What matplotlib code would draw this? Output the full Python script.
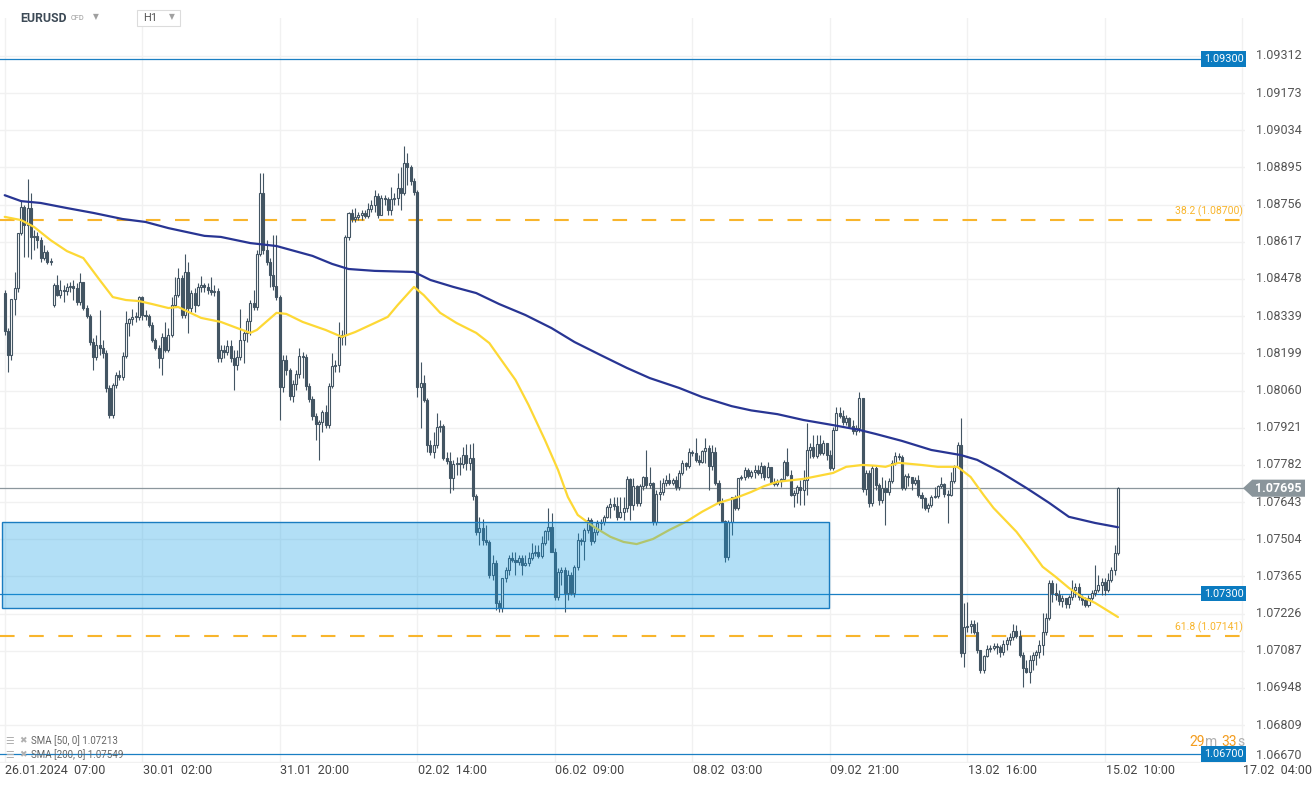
"""
EURUSD H1 candlestick chart with SMA 50 / SMA 200, key levels and fib lines.
"""

import numpy as np
import matplotlib.pyplot as plt
import matplotlib.transforms as mtransforms
from matplotlib.patches import Rectangle, Polygon

# ── Data ──────────────────────────────────────────────────────────────────────
close = [
    1.08283, 1.08193, 1.08402, 1.08444, 1.08650, 1.08747, 1.08679, 1.08743, 1.08635, 1.08639,
    1.08623, 1.08556, 1.08579, 1.08542, 1.08545, 1.08455, 1.08417, 1.08436, 1.08432, 1.08448,
    1.08452, 1.08444, 1.08392, 1.08467, 1.08369, 1.08340, 1.08242, 1.08186, 1.08230, 1.08219,
    1.08201, 1.08070, 1.07969, 1.08081, 1.08118, 1.08111, 1.08190, 1.08313, 1.08328, 1.08336,
    1.08336, 1.08410, 1.08343, 1.08340, 1.08305, 1.08249, 1.08219, 1.08182, 1.08261, 1.08212,
    1.08268, 1.08380, 1.08417, 1.08481, 1.08343, 1.08504, 1.08369, 1.08425, 1.08380, 1.08448,
    1.08455, 1.08448, 1.08436, 1.08429, 1.08432, 1.08182, 1.08212, 1.08205, 1.08227, 1.08182,
    1.08156, 1.08186, 1.08249, 1.08276, 1.08320, 1.08388, 1.08373, 1.08571, 1.08799, 1.08586,
    1.08542, 1.08492, 1.08452, 1.08410, 1.08074, 1.08175, 1.08137, 1.08040, 1.08085, 1.08122,
    1.08190, 1.08186, 1.08078, 1.08028, 1.07966, 1.07935, 1.07943, 1.07981, 1.07931, 1.08078,
    1.08153, 1.08156, 1.08261, 1.08268, 1.08635, 1.08725, 1.08702, 1.08710, 1.08717, 1.08725,
    1.08714, 1.08739, 1.08754, 1.08788, 1.08717, 1.08780, 1.08776, 1.08736, 1.08776, 1.08780,
    1.08818, 1.08799, 1.08912, 1.08897, 1.08844, 1.08803, 1.08074, 1.08089, 1.08025, 1.07856,
    1.07831, 1.07856, 1.07924, 1.07928, 1.07808, 1.07797, 1.07733, 1.07786, 1.07790, 1.07786,
    1.07819, 1.07790, 1.07808, 1.07666, 1.07532, 1.07546, 1.07501, 1.07494, 1.07370, 1.07416,
    1.07266, 1.07247, 1.07359, 1.07389, 1.07434, 1.07427, 1.07420, 1.07434, 1.07408, 1.07416,
    1.07434, 1.07453, 1.07457, 1.07442, 1.07490, 1.07535, 1.07550, 1.07457, 1.07288, 1.07382,
    1.07389, 1.07303, 1.07370, 1.07303, 1.07401, 1.07501, 1.07497, 1.07539, 1.07576, 1.07497,
    1.07532, 1.07565, 1.07569, 1.07588, 1.07625, 1.07636, 1.07629, 1.07588, 1.07607, 1.07621,
    1.07730, 1.07632, 1.07703, 1.07640, 1.07703, 1.07737, 1.07707, 1.07715, 1.07569, 1.07673,
    1.07681, 1.07715, 1.07726, 1.07715, 1.07726, 1.07700, 1.07752, 1.07790, 1.07779, 1.07831,
    1.07827, 1.07801, 1.07794, 1.07834, 1.07845, 1.07779, 1.07831, 1.07715, 1.07640, 1.07572,
    1.07438, 1.07569, 1.07662, 1.07621, 1.07733, 1.07737, 1.07763, 1.07741, 1.07756, 1.07763,
    1.07752, 1.07779, 1.07737, 1.07775, 1.07719, 1.07711, 1.07722, 1.07730, 1.07794, 1.07744,
    1.07669, 1.07677, 1.07700, 1.07688, 1.07726, 1.07838, 1.07849, 1.07816, 1.07860, 1.07827,
    1.07864, 1.07819, 1.07771, 1.07913, 1.07977, 1.07966, 1.07943, 1.07958, 1.07928, 1.07909,
    1.07920, 1.08032, 1.07692, 1.07752, 1.07640, 1.07771, 1.07707, 1.07651, 1.07696, 1.07681,
    1.07722, 1.07790, 1.07816, 1.07812, 1.07696, 1.07741, 1.07737, 1.07715, 1.07726, 1.07669,
    1.07658, 1.07621, 1.07632, 1.07662, 1.07666, 1.07703, 1.07711, 1.07673, 1.07669, 1.07722,
    1.07775, 1.07856, 1.07079, 1.07176, 1.07180, 1.07187, 1.07157, 1.07090, 1.07015, 1.07068,
    1.07094, 1.07097, 1.07105, 1.07101, 1.07083, 1.07112, 1.07127, 1.07139, 1.07161, 1.07142,
    1.07071, 1.07023, 1.07008, 1.07053, 1.07071, 1.07083, 1.07108, 1.07157, 1.07210, 1.07341,
    1.07303, 1.07295, 1.07273, 1.07284, 1.07262, 1.07288, 1.07314, 1.07326, 1.07288, 1.07277,
    1.07258, 1.07284, 1.07303, 1.07314, 1.07333, 1.07345, 1.07314, 1.07352, 1.07389, 1.07453,
    1.07695,
]

high = [
    1.08436, 1.08294, 1.08402, 1.08504, 1.08650, 1.08773, 1.08754, 1.08851, 1.08799, 1.08661,
    1.08654, 1.08635, 1.08604, 1.08586, 1.08556, 1.08463, 1.08492, 1.08474, 1.08455, 1.08463,
    1.08467, 1.08474, 1.08463, 1.08500, 1.08467, 1.08380, 1.08347, 1.08257, 1.08268, 1.08362,
    1.08249, 1.08212, 1.08081, 1.08089, 1.08130, 1.08137, 1.08205, 1.08358, 1.08332, 1.08365,
    1.08355, 1.08414, 1.08414, 1.08362, 1.08347, 1.08317, 1.08257, 1.08230, 1.08276, 1.08317,
    1.08294, 1.08410, 1.08485, 1.08519, 1.08492, 1.08571, 1.08542, 1.08436, 1.08444, 1.08463,
    1.08489, 1.08463, 1.08463, 1.08485, 1.08455, 1.08444, 1.08230, 1.08230, 1.08249, 1.08249,
    1.08212, 1.08212, 1.08365, 1.08287, 1.08332, 1.08399, 1.08436, 1.08586, 1.08874, 1.08874,
    1.08623, 1.08556, 1.08642, 1.08642, 1.08417, 1.08193, 1.08193, 1.08145, 1.08100, 1.08137,
    1.08219, 1.08205, 1.08197, 1.08089, 1.08040, 1.07977, 1.07950, 1.07988, 1.08006, 1.08089,
    1.08201, 1.08175, 1.08317, 1.08287, 1.08642, 1.08729, 1.08739, 1.08743, 1.08729, 1.08736,
    1.08736, 1.08762, 1.08773, 1.08810, 1.08799, 1.08791, 1.08791, 1.08784, 1.08822, 1.08799,
    1.08874, 1.08897, 1.08975, 1.08949, 1.08904, 1.08855, 1.08810, 1.08168, 1.08118, 1.08032,
    1.07875, 1.07906, 1.07977, 1.07950, 1.07935, 1.07831, 1.07831, 1.07801, 1.07812, 1.07812,
    1.07849, 1.07860, 1.07860, 1.07864, 1.07673, 1.07588, 1.07580, 1.07557, 1.07501, 1.07445,
    1.07427, 1.07277, 1.07352, 1.07401, 1.07445, 1.07457, 1.07457, 1.07445, 1.07445, 1.07445,
    1.07457, 1.07490, 1.07482, 1.07482, 1.07517, 1.07539, 1.07621, 1.07603, 1.07471, 1.07397,
    1.07401, 1.07401, 1.07389, 1.07382, 1.07408, 1.07528, 1.07509, 1.07546, 1.07588, 1.07584,
    1.07546, 1.07576, 1.07580, 1.07595, 1.07632, 1.07658, 1.07662, 1.07662, 1.07662, 1.07662,
    1.07741, 1.07733, 1.07733, 1.07707, 1.07711, 1.07741, 1.07838, 1.07775, 1.07719, 1.07688,
    1.07726, 1.07733, 1.07744, 1.07752, 1.07733, 1.07741, 1.07763, 1.07801, 1.07794, 1.07845,
    1.07838, 1.07883, 1.07819, 1.07838, 1.07883, 1.07856, 1.07856, 1.07849, 1.07726, 1.07658,
    1.07576, 1.07576, 1.07662, 1.07669, 1.07733, 1.07744, 1.07775, 1.07771, 1.07763, 1.07782,
    1.07782, 1.07794, 1.07782, 1.07794, 1.07771, 1.07733, 1.07730, 1.07733, 1.07801, 1.07845,
    1.07763, 1.07688, 1.07707, 1.07726, 1.07763, 1.07939, 1.07864, 1.07894, 1.07894, 1.07894,
    1.07875, 1.07845, 1.07838, 1.07924, 1.07999, 1.07999, 1.07988, 1.07969, 1.07962, 1.07950,
    1.07931, 1.08055, 1.08032, 1.07763, 1.07763, 1.07782, 1.07782, 1.07715, 1.07737, 1.07726,
    1.07733, 1.07801, 1.07831, 1.07827, 1.07819, 1.07748, 1.07752, 1.07726, 1.07737, 1.07744,
    1.07681, 1.07662, 1.07640, 1.07669, 1.07700, 1.07707, 1.07737, 1.07715, 1.07688, 1.07756,
    1.07782, 1.07868, 1.07958, 1.07266, 1.07270, 1.07202, 1.07202, 1.07195, 1.07090, 1.07071,
    1.07108, 1.07108, 1.07116, 1.07116, 1.07108, 1.07127, 1.07139, 1.07154, 1.07187, 1.07184,
    1.07165, 1.07083, 1.07053, 1.07071, 1.07083, 1.07090, 1.07127, 1.07229, 1.07229, 1.07352,
    1.07352, 1.07341, 1.07314, 1.07295, 1.07284, 1.07295, 1.07352, 1.07341, 1.07341, 1.07295,
    1.07288, 1.07295, 1.07314, 1.07408, 1.07370, 1.07359, 1.07359, 1.07378, 1.07401, 1.07482,
    1.07700,
]

low = [
    1.08268, 1.08130, 1.08175, 1.08343, 1.08429, 1.08642, 1.08560, 1.08560, 1.08552, 1.08586,
    1.08593, 1.08542, 1.08549, 1.08534, 1.08530, 1.08373, 1.08414, 1.08406, 1.08392, 1.08417,
    1.08429, 1.08399, 1.08380, 1.08380, 1.08362, 1.08332, 1.08230, 1.08137, 1.08175, 1.08193,
    1.08182, 1.08055, 1.07958, 1.07958, 1.08070, 1.08100, 1.08100, 1.08182, 1.08265, 1.08305,
    1.08317, 1.08324, 1.08324, 1.08324, 1.08298, 1.08242, 1.08212, 1.08145, 1.08118, 1.08205,
    1.08205, 1.08261, 1.08373, 1.08410, 1.08332, 1.08332, 1.08276, 1.08355, 1.08355, 1.08377,
    1.08429, 1.08429, 1.08421, 1.08417, 1.08414, 1.08168, 1.08168, 1.08182, 1.08193, 1.08168,
    1.08062, 1.08137, 1.08175, 1.08164, 1.08242, 1.08268, 1.08362, 1.08362, 1.08564, 1.08571,
    1.08530, 1.08448, 1.08436, 1.08399, 1.07950, 1.08055, 1.08118, 1.08025, 1.08018, 1.08062,
    1.08107, 1.08107, 1.08062, 1.08018, 1.07950, 1.07875, 1.07801, 1.07906, 1.07920, 1.07920,
    1.08070, 1.08130, 1.08130, 1.08230, 1.08230, 1.08623, 1.08691, 1.08691, 1.08698, 1.08698,
    1.08706, 1.08706, 1.08729, 1.08729, 1.08706, 1.08717, 1.08754, 1.08717, 1.08717, 1.08754,
    1.08754, 1.08736, 1.08791, 1.08829, 1.08829, 1.08791, 1.08036, 1.07920, 1.08018, 1.07831,
    1.07819, 1.07808, 1.07845, 1.07906, 1.07801, 1.07786, 1.07677, 1.07688, 1.07744, 1.07744,
    1.07771, 1.07763, 1.07763, 1.07651, 1.07520, 1.07482, 1.07482, 1.07482, 1.07359, 1.07352,
    1.07240, 1.07233, 1.07233, 1.07345, 1.07370, 1.07420, 1.07370, 1.07408, 1.07370, 1.07405,
    1.07405, 1.07427, 1.07442, 1.07434, 1.07434, 1.07482, 1.07501, 1.07457, 1.07277, 1.07277,
    1.07333, 1.07233, 1.07277, 1.07295, 1.07288, 1.07389, 1.07482, 1.07427, 1.07528, 1.07482,
    1.07490, 1.07520, 1.07539, 1.07557, 1.07584, 1.07584, 1.07614, 1.07576, 1.07584, 1.07576,
    1.07607, 1.07576, 1.07614, 1.07629, 1.07629, 1.07688, 1.07696, 1.07696, 1.07557, 1.07557,
    1.07651, 1.07669, 1.07703, 1.07707, 1.07707, 1.07688, 1.07688, 1.07744, 1.07763, 1.07771,
    1.07816, 1.07794, 1.07782, 1.07790, 1.07790, 1.07688, 1.07763, 1.07707, 1.07632, 1.07569,
    1.07420, 1.07427, 1.07520, 1.07614, 1.07614, 1.07726, 1.07726, 1.07733, 1.07733, 1.07733,
    1.07744, 1.07733, 1.07726, 1.07733, 1.07715, 1.07703, 1.07703, 1.07700, 1.07726, 1.07741,
    1.07666, 1.07625, 1.07640, 1.07632, 1.07632, 1.07669, 1.07808, 1.07808, 1.07808, 1.07819,
    1.07819, 1.07801, 1.07763, 1.07763, 1.07913, 1.07958, 1.07931, 1.07931, 1.07920, 1.07898,
    1.07894, 1.07906, 1.07681, 1.07669, 1.07625, 1.07629, 1.07688, 1.07632, 1.07640, 1.07557,
    1.07669, 1.07715, 1.07782, 1.07801, 1.07688, 1.07688, 1.07703, 1.07688, 1.07707, 1.07662,
    1.07621, 1.07614, 1.07607, 1.07625, 1.07658, 1.07658, 1.07696, 1.07662, 1.07565, 1.07666,
    1.07715, 1.07771, 1.07064, 1.07026, 1.07157, 1.07154, 1.07150, 1.07079, 1.07004, 1.07004,
    1.07064, 1.07083, 1.07090, 1.07075, 1.07064, 1.07071, 1.07090, 1.07108, 1.07127, 1.07135,
    1.07064, 1.06952, 1.07004, 1.06967, 1.07015, 1.07034, 1.07060, 1.07071, 1.07146, 1.07202,
    1.07270, 1.07277, 1.07258, 1.07251, 1.07247, 1.07247, 1.07277, 1.07288, 1.07277, 1.07258,
    1.07251, 1.07251, 1.07277, 1.07292, 1.07307, 1.07295, 1.07295, 1.07307, 1.07345, 1.07370,
    1.07445,
]

# opens follow the previous close, except where a session opened with a gap
gap_opens = {0: 1.08425, 15: 1.08380}

sma50_idx = [0, 5, 9, 14, 19, 24, 29, 33, 37, 41, 45, 50, 53, 56, 60, 66, 71, 75, 77, 83,
             86, 91, 98, 103, 107, 113, 117, 120, 125, 128, 133, 138, 144, 148, 151, 156, 160, 165, 169, 172,
             175, 180, 185, 189, 193, 198, 203, 208, 213, 218, 224, 228, 232, 236, 244, 253, 257, 262, 266, 269,
             273, 280, 285, 291, 295, 299, 302, 309, 313, 317, 321, 325, 329, 333, 340]
sma50 = [1.08710, 1.08698, 1.08672, 1.08623, 1.08582, 1.08556, 1.08474, 1.08410, 1.08399, 1.08395,
         1.08384, 1.08369, 1.08373, 1.08355, 1.08332, 1.08317, 1.08294, 1.08276, 1.08287, 1.08351,
         1.08347, 1.08317, 1.08287, 1.08261, 1.08279, 1.08313, 1.08336, 1.08380, 1.08448, 1.08417,
         1.08351, 1.08313, 1.08276, 1.08238, 1.08186, 1.08100, 1.08006, 1.07875, 1.07763, 1.07662,
         1.07595, 1.07550, 1.07513, 1.07494, 1.07486, 1.07505, 1.07539, 1.07569, 1.07607, 1.07640,
         1.07662, 1.07681, 1.07703, 1.07719, 1.07730, 1.07752, 1.07775, 1.07782, 1.07779, 1.07775,
         1.07790, 1.07782, 1.07775, 1.07775, 1.07737, 1.07669, 1.07621, 1.07532, 1.07468, 1.07401,
         1.07363, 1.07322, 1.07288, 1.07266, 1.07213]

sma200_idx = [0, 5, 11, 19, 27, 36, 43, 50, 61, 66, 75, 83, 94, 100, 105, 113, 125, 130, 137, 144,
              151, 159, 167, 174, 182, 190, 197, 206, 213, 222, 228, 236, 244, 253, 261, 266, 274, 283, 292, 297,
              304, 312, 319, 325, 333, 340]
sma200 = [1.08791, 1.08769, 1.08762, 1.08743, 1.08725, 1.08702, 1.08691, 1.08668, 1.08639, 1.08635,
          1.08612, 1.08601, 1.08564, 1.08534, 1.08515, 1.08508, 1.08504, 1.08474, 1.08448, 1.08425,
          1.08384, 1.08343, 1.08294, 1.08242, 1.08193, 1.08145, 1.08107, 1.08070, 1.08036, 1.08002,
          1.07986, 1.07972, 1.07950, 1.07931, 1.07913, 1.07898, 1.07872, 1.07838, 1.07819, 1.07801,
          1.07756, 1.07696, 1.07640, 1.07588, 1.07565, 1.07549]

levels = [1.09300, 1.07300, 1.06700]
fib_levels = [1.08700, 1.07141]
fib_labels = ["38.2 (1.08700)", "61.8 (1.07141)"]
zone_start, zone_end = -0.8, 251.8      # candle index span of the blue zone
zone_low, zone_high = 1.07245, 1.07570

ytick_vals = [1.09312, 1.09173, 1.09034, 1.08895, 1.08756, 1.08617, 1.08478, 1.08339, 1.08199, 1.08060,
              1.07921, 1.07782, 1.07643, 1.07504, 1.07365, 1.07226, 1.07087, 1.06948, 1.06809, 1.06670]
xtick_idx = [0, 42, 84, 126, 168, 210, 252, 294, 336, 378]
xtick_labels = ["26.01.2024  07:00", "30.01  02:00", "31.01  20:00", "02.02  14:00", "06.02  09:00",
                "08.02  03:00", "09.02  21:00", "13.02  16:00", "15.02  10:00", "17.02  04:00"]

# ── Style ─────────────────────────────────────────────────────────────────────
plt.rcParams['font.family'] = ['Roboto', 'DejaVu Sans']
CANDLE = "#435563"
GRID = "#f1f1f1"
LEVEL = "#1a7fc3"
FIB = "#f8b52c"
TXT = "#555555"

W, H = 1315, 787
fig = plt.figure(figsize=(W / 100, H / 100), dpi=100)
ax = fig.add_axes([0, 24 / H, 1245 / W, 745 / H])
ax.set_xlim(-1.44, 378.8)
ax.set_ylim(1.06667, 1.09454)
for s in ax.spines.values():
    s.set_visible(False)
ax.set_xticks([])
ax.set_yticks([])

trans = mtransforms.blended_transform_factory(ax.transAxes, ax.transData)
xtrans = mtransforms.blended_transform_factory(ax.transData, ax.transAxes)

# grid
for p in ytick_vals:
    ax.axhline(p, color=GRID, lw=1, zorder=0)
for ix in xtick_idx:
    ax.axvline(ix, color=GRID, lw=1, zorder=0)

# ── Candles ───────────────────────────────────────────────────────────────────
c = np.array(close)
o = np.array([gap_opens.get(i, close[i - 1] if i else close[0]) for i in range(len(close))])
h = np.maximum(np.array(high), np.maximum(o, c))
l = np.minimum(np.array(low), np.minimum(o, c))
idx = np.arange(len(c))
up = c >= o
bottom = np.minimum(o, c)
height = np.maximum(np.abs(c - o), 0.00002)

ax.vlines(idx, l, h, color=CANDLE, lw=0.8, zorder=3)
ax.bar(idx[up], height[up], bottom=bottom[up], width=0.62, facecolor="white",
       edgecolor=CANDLE, linewidth=0.8, zorder=4)
ax.bar(idx[~up], height[~up], bottom=bottom[~up], width=0.62, facecolor=CANDLE,
       edgecolor=CANDLE, linewidth=0.8, zorder=4)

# ── Moving averages ───────────────────────────────────────────────────────────
ax.plot(sma50_idx, sma50, color="#fdd835", lw=1.6, zorder=5, solid_capstyle="round")
ax.plot(sma200_idx, sma200, color="#283593", lw=1.6, zorder=5, solid_capstyle="round")

# ── Levels ────────────────────────────────────────────────────────────────────
for lv in levels:
    ax.axhline(lv, color=LEVEL, lw=0.9, zorder=2)
    ax.text(0.9988, lv, f"{lv:.5f}", transform=trans, ha="right", va="center",
            fontsize=7.8, color="white", zorder=9,
            bbox=dict(boxstyle="square,pad=0.25", fc="#0b7bc0", ec="none"))

fib_off = mtransforms.offset_copy(trans, fig=fig, y=3, units="dots")
for lv, lab in zip(fib_levels, fib_labels):
    ax.axhline(lv, color=FIB, lw=1.5, dashes=(7, 7), zorder=2)
    ax.text(0.9985, lv, lab, transform=fib_off, ha="right", va="bottom",
            fontsize=7.5, color=FIB, zorder=9)

ax.add_patch(Rectangle((zone_start, zone_low), zone_end - zone_start, zone_high - zone_low,
                       facecolor=(17 / 255, 158 / 255, 230 / 255, 0.32),
                       edgecolor="#1a7cc0", lw=1, zorder=6))

# current price line + tag
last = close[-1]
ax.axhline(last, color="#8c979d", lw=0.9, zorder=2)
hh = 0.00032
ax.add_patch(Polygon([(0.9984, last), (1.0058, last + hh), (1.0482, last + hh),
                      (1.0482, last - hh), (1.0058, last - hh)],
                     closed=True, transform=trans, clip_on=False,
                     facecolor="#8a959b", edgecolor="none", zorder=9))
ax.text(1.027, last, f"{last:.5f}", transform=trans, ha="center", va="center",
        fontsize=9, color="white", weight="bold", zorder=10, clip_on=False)

# ── Axis labels ───────────────────────────────────────────────────────────────
for p in ytick_vals:
    va = "bottom" if p == ytick_vals[-1] else "center"
    ax.text(1.0085, p, f"{p:.5f}", transform=trans, ha="left", va=va,
            fontsize=9, color=TXT, clip_on=False)

for ix, lab in zip(xtick_idx, xtick_labels):
    ax.text(ix + 0.2, -0.0094, lab, transform=xtrans, ha="left", va="center",
            fontsize=9, color="#444444", clip_on=False)

# ── Header, legend, timer ─────────────────────────────────────────────────────
def fy(y):
    return 1 - y / H

fig.text(20 / W, fy(18), "EURUSD", fontsize=8.8, weight="bold", color="#3d4a56", va="center")
fig.text(71 / W, fy(18.5), "CFD", fontsize=5.3, color="#999999", va="center")
fig.text(93 / W, fy(17), "▼", fontsize=5.5, color="#a0a0a0", va="center")
fig.patches.append(Rectangle((137 / W, fy(26)), 43 / W, 16 / H, transform=fig.transFigure,
                             facecolor="white", edgecolor="#dcdcdc", lw=0.8))
fig.text(143 / W, fy(18), "H1", fontsize=8, color="#555555", va="center")
fig.text(169 / W, fy(17), "▼", fontsize=5.5, color="#a0a0a0", va="center")

for yy, lab in [(741, "SMA [50, 0] 1.07213"), (755, "SMA [200, 0] 1.07549")]:
    fig.text(5 / W, fy(yy), "☰", fontsize=7, color="#b0b0b0", va="center")
    fig.text(19 / W, fy(yy), "✖", fontsize=6.5, color="#b0b0b0", va="center")
    fig.text(31 / W, fy(yy), lab, fontsize=7, color="#666666", va="center")

for xx, t, col in [(1189, "29", "#f39c1e"), (1205, "m", "#b0b0b0"),
                   (1221, "33", "#f39c1e"), (1237, "s", "#b0b0b0")]:
    fig.text(xx / W, fy(742), t, fontsize=10, color=col, va="center")

fig.savefig("out.png", dpi=100)
